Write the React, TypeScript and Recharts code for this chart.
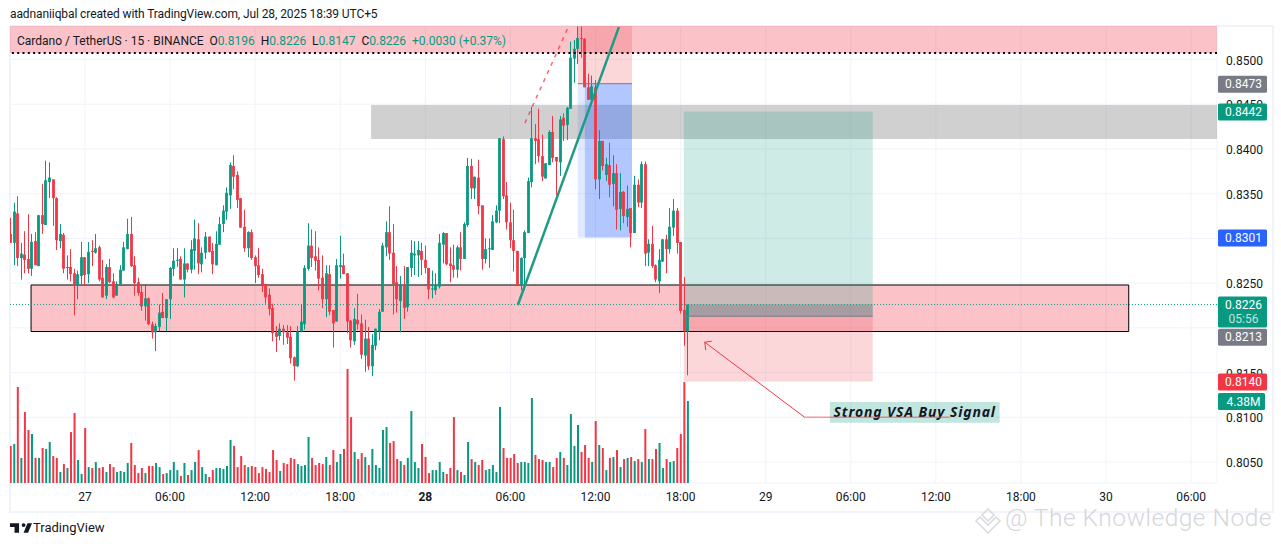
import { Bar, CartesianGrid, Cell, ComposedChart, ReferenceArea, ReferenceLine, XAxis, YAxis } from 'recharts';

const GREEN = '#089981';
const RED = '#f23645';
const INK = '#131722';
const UI_FONT = 'Roboto, sans-serif';

// 15 minute candles
const opens = [
  .8305,.8295,.8328,.8278,.8282,.8277,.8266,.8297,.8269,.8326,.8315,.8363,
  .8366,.8345,.8297,.8304,.8267,.8268,.8261,.8247,.8258,.8279,.8260,.8286,
  .8284,.8290,.8256,.8236,.8268,.8252,.8236,.8248,.8264,.8288,.8305,.8270,
  .8251,.8240,.8224,.8233,.8204,.8195,.8201,.8218,.8211,.8232,.8266,.8275,
  .8277,.8254,.8272,.8265,.8286,.8299,.8271,.8284,.8302,.8286,.8270,.8293,
  .8316,.8330,.8348,.8381,.8371,.8345,.8313,.8289,.8307,.8279,.8270,.8260,
  .8249,.8237,.8222,.8195,.8191,.8199,.8195,.8190,.8167,.8157,.8196,.8204,
  .8266,.8292,.8280,.8276,.8256,.8232,.8260,.8220,.8207,.8268,.8270,.8261,
  .8208,.8185,.8209,.8205,.8169,.8188,.8157,.8180,.8196,.8218,.8290,.8307,
  .8284,.8251,.8230,.8248,.8223,.8267,.8281,.8281,.8286,.8276,.8267,.8243,
  .8242,.8246,.8293,.8306,.8272,.8270,.8265,.8290,.8277,.8315,.8381,.8356,
  .8368,.8337,.8277,.8288,.8287,.8318,.8331,.8411,.8348,.8318,.8298,.8286,
  .8248,.8278,.8306,.8363,.8412,.8411,.8392,.8367,.8382,.8419,.8391,.8385,
  .8435,.8427,.8445,.8501,.8512,.8524,.8523,.8469,.8455,.8469,.8366,.8409,
  .8371,.8382,.8361,.8373,.8333,.8352,.8324,.8334,.8306,.8360,.8340,.8383,
  .8284,.8294,.8270,.8252,.8274,.8299,.8288,.8312,.8331,.8296,.8220,.8196,
];
const highs = [
  .8323,.8340,.8347,.8295,.8308,.8327,.8305,.8307,.8326,.8361,.8387,.8385,
  .8366,.8346,.8316,.8306,.8281,.8288,.8266,.8264,.8296,.8279,.8296,.8298,
  .8305,.8292,.8276,.8271,.8277,.8261,.8252,.8270,.8296,.8322,.8324,.8280,
  .8256,.8247,.8249,.8234,.8207,.8205,.8226,.8239,.8232,.8268,.8289,.8289,
  .8280,.8289,.8272,.8298,.8321,.8317,.8290,.8307,.8302,.8295,.8308,.8324,
  .8337,.8357,.8385,.8393,.8375,.8345,.8332,.8308,.8310,.8281,.8289,.8266,
  .8249,.8244,.8227,.8202,.8205,.8203,.8203,.8202,.8168,.8202,.8226,.8270,
  .8317,.8310,.8308,.8290,.8281,.8270,.8270,.8220,.8277,.8303,.8283,.8261,
  .8209,.8222,.8238,.8215,.8209,.8201,.8193,.8199,.8221,.8295,.8319,.8336,
  .8316,.8269,.8258,.8269,.8268,.8298,.8297,.8297,.8295,.8292,.8267,.8264,
  .8261,.8305,.8307,.8306,.8290,.8293,.8292,.8307,.8318,.8390,.8389,.8369,
  .8388,.8337,.8300,.8300,.8326,.8337,.8412,.8414,.8363,.8340,.8332,.8286,
  .8279,.8309,.8368,.8447,.8428,.8445,.8416,.8384,.8421,.8437,.8391,.8437,
  .8440,.8447,.8520,.8522,.8537,.8537,.8524,.8484,.8482,.8477,.8421,.8409,
  .8390,.8407,.8393,.8383,.8373,.8353,.8359,.8334,.8370,.8366,.8386,.8386,
  .8299,.8314,.8271,.8288,.8299,.8304,.8334,.8344,.8334,.8296,.8257,.8226,
];
const lows = [
  .8295,.8270,.8269,.8254,.8261,.8261,.8258,.8270,.8269,.8305,.8315,.8345,
  .8314,.8287,.8289,.8261,.8254,.8252,.8214,.8232,.8248,.8247,.8250,.8269,
  .8283,.8252,.8234,.8232,.8250,.8233,.8236,.8248,.8264,.8288,.8268,.8236,
  .8236,.8219,.8208,.8203,.8188,.8174,.8196,.8211,.8196,.8210,.8258,.8268,
  .8254,.8234,.8262,.8261,.8265,.8260,.8262,.8277,.8284,.8260,.8270,.8293,
  .8307,.8321,.8333,.8355,.8334,.8312,.8285,.8279,.8276,.8250,.8256,.8240,
  .8227,.8214,.8185,.8173,.8186,.8181,.8182,.8160,.8141,.8156,.8195,.8198,
  .8264,.8268,.8264,.8242,.8222,.8212,.8214,.8178,.8207,.8255,.8260,.8194,
  .8178,.8181,.8198,.8165,.8151,.8153,.8146,.8175,.8186,.8218,.8280,.8276,
  .8215,.8217,.8195,.8210,.8218,.8257,.8259,.8257,.8259,.8261,.8232,.8233,
  .8237,.8244,.8272,.8270,.8251,.8256,.8256,.8264,.8277,.8313,.8344,.8344,
  .8327,.8265,.8272,.8267,.8287,.8317,.8317,.8344,.8310,.8289,.8263,.8248,
  .8242,.8242,.8306,.8357,.8383,.8385,.8364,.8367,.8382,.8385,.8348,.8370,
  .8409,.8410,.8445,.8474,.8495,.8502,.8469,.8455,.8454,.8355,.8344,.8376,
  .8364,.8346,.8336,.8310,.8309,.8317,.8313,.8290,.8306,.8335,.8334,.8269,
  .8269,.8267,.8251,.8239,.8274,.8261,.8283,.8303,.8283,.8216,.8180,.8147,
];
const closes = [
  .8295,.8330,.8278,.8283,.8276,.8266,.8296,.8270,.8326,.8316,.8365,.8368,
  .8345,.8298,.8305,.8266,.8268,.8260,.8247,.8260,.8279,.8259,.8285,.8285,
  .8289,.8254,.8234,.8268,.8251,.8234,.8249,.8265,.8290,.8305,.8269,.8250,
  .8239,.8224,.8233,.8204,.8195,.8202,.8217,.8211,.8232,.8267,.8275,.8276,
  .8254,.8272,.8265,.8288,.8300,.8272,.8284,.8302,.8285,.8271,.8294,.8316,
  .8331,.8351,.8382,.8369,.8343,.8312,.8289,.8307,.8278,.8269,.8259,.8247,
  .8234,.8221,.8194,.8190,.8199,.8195,.8189,.8166,.8157,.8196,.8207,.8267,
  .8292,.8278,.8275,.8255,.8232,.8261,.8218,.8205,.8270,.8270,.8260,.8207,
  .8186,.8210,.8204,.8170,.8188,.8157,.8181,.8199,.8218,.8292,.8307,.8283,
  .8249,.8232,.8248,.8222,.8268,.8284,.8283,.8287,.8276,.8267,.8243,.8244,
  .8247,.8295,.8306,.8271,.8269,.8265,.8290,.8277,.8316,.8381,.8356,.8369,
  .8336,.8277,.8288,.8289,.8319,.8331,.8412,.8347,.8318,.8298,.8286,.8248,
  .8278,.8307,.8364,.8412,.8409,.8392,.8369,.8384,.8419,.8390,.8386,.8433,
  .8426,.8446,.8502,.8512,.8524,.8523,.8469,.8455,.8470,.8366,.8409,.8381,
  .8383,.8360,.8373,.8332,.8352,.8325,.8333,.8306,.8360,.8340,.8383,.8283,
  .8294,.8269,.8254,.8276,.8299,.8288,.8313,.8331,.8295,.8219,.8196,.8226,
];
// volume in millions
const volumes = [
  1.98,2.08,5.13,1.34,3.79,2.83,2.62,1.34,1.34,1.87,1.82,2.19,
  1.44,1.34,0.59,1.01,0.80,2.72,3.74,1.23,0.48,2.94,0.85,0.80,
  1.12,0.80,0.85,0.59,1.01,0.85,0.59,0.64,0.59,1.07,2.14,0.96,
  0.53,0.80,0.53,0.91,0.91,1.07,0.85,0.48,0.53,0.69,1.12,0.69,
  0.37,1.07,0.43,0.69,1.12,1.76,0.85,0.48,0.32,0.69,0.80,0.80,
  0.75,0.91,2.30,1.98,0.85,1.44,0.96,0.85,0.91,0.85,0.53,0.85,
  0.75,0.59,1.76,1.23,0.64,1.07,1.01,1.34,1.28,1.01,0.91,0.96,
  2.46,1.34,0.96,1.07,1.01,1.39,0.96,1.76,1.12,1.55,1.82,6.09,
  3.52,1.66,1.28,1.60,1.39,0.96,1.82,0.96,0.80,2.83,2.99,2.14,
  2.24,1.28,1.17,0.96,1.34,3.84,1.12,0.80,2.08,1.39,0.53,0.69,
  0.69,1.12,0.59,0.48,0.80,3.52,0.69,0.59,0.43,2.19,1.28,1.12,
  0.96,1.23,0.69,0.75,0.96,0.59,4.06,1.87,1.34,1.34,1.55,1.07,
  1.12,1.12,1.07,4.54,1.50,1.28,1.23,1.12,1.12,0.85,1.34,1.66,
  1.34,0.96,3.68,1.98,3.10,1.66,2.03,1.34,1.12,3.31,2.03,1.87,
  0.69,1.34,1.39,1.76,0.85,1.28,1.34,1.39,1.17,1.28,1.12,2.88,
  1.28,1.28,1.82,2.14,0.80,1.28,1.12,1.17,1.87,2.62,5.39,4.38,
];

const priceTicks = [0.85, 0.845, 0.84, 0.835, 0.83, 0.825, 0.82, 0.815, 0.81, 0.805];
const hiddenPriceLabels = [0.83, 0.82]; // fully covered by the tags in the reference
const timeTicks = [21, 45, 69, 93, 117, 141, 165, 189, 213, 237, 261, 285, 309, 333];
const timeLabels = ['27', '06:00', '12:00', '18:00', '28', '06:00', '12:00', '18:00', '29', '06:00', '12:00', '18:00', '30', '06:00'];

const candles = opens.map((o, i) => ({
  i,
  o,
  c: closes[i],
  range: [lows[i], highs[i]],
  volume: volumes[i],
}));

const X_MIN = -0.14;
const X_MAX = 340.3;
const P_MIN = 0.80265;
const P_MAX = 0.85375;
const VOL_MAX = 24.41;

function Candle(props: any) {
  const { x, y, width, height, payload } = props;
  const hi = payload.range[1];
  const lo = payload.range[0];
  const perUnit = height / (hi - lo);
  const top = y + (hi - Math.max(payload.o, payload.c)) * perUnit;
  const bottom = y + (hi - Math.min(payload.o, payload.c)) * perUnit;
  const wick = Math.round(x + width / 2 - 0.2);
  const color = payload.c >= payload.o ? GREEN : RED;
  return (
    <g>
      <rect x={wick} y={y} width={1} height={height} fill={color} />
      <rect x={wick - 0.9} y={top} width={2.8} height={Math.max(bottom - top, 1)} fill={color} />
    </g>
  );
}

function TimeTick(props: any) {
  const { x, y, payload, index } = props;
  const label = timeLabels[index];
  return (
    <text x={x} y={y + 7} textAnchor="middle" dominantBaseline="middle" fontFamily={UI_FONT} fontSize={12}
      fontWeight={label === '28' ? 700 : 400} fill={INK}>
      {label ?? payload.value}
    </text>
  );
}

function PriceTick(props: any) {
  const { x, y, payload } = props;
  if (hiddenPriceLabels.includes(payload.value)) return <g />;
  return (
    <text x={x} y={y + 2} dominantBaseline="middle" fontFamily={UI_FONT} fontSize={12} fill={INK}>
      {payload.value.toFixed(4)}
    </text>
  );
}

// coloured price tag in the axis strip, hung on a reference line
function tag(text: string, fill: string, w = 49, sub?: string) {
  return (props: any) => {
    const { viewBox } = props;
    const left = viewBox.x + viewBox.width + 1;
    const cy = viewBox.y;
    const h = sub ? 31 : 17;
    const top = sub ? cy - 8 : cy - 8;
    return (
      <g>
        <rect x={left} y={top} width={w} height={h} rx={1.5} fill={fill} />
        <text x={left + 25.5} y={cy + 1.5} textAnchor="middle" dominantBaseline="middle" fontFamily={UI_FONT} fontSize={12} fill="#fff">{text}</text>
        {sub && <text x={left + 25.5} y={cy + 15.5} textAnchor="middle" dominantBaseline="middle" fontFamily={UI_FONT} fontSize={12} fill="#fff" fillOpacity={0.75}>{sub}</text>}
      </g>
    );
  };
}

function signalLabel(props: any) {
  const { viewBox } = props;
  return (
    <text x={viewBox.x + viewBox.width / 2} y={viewBox.y + viewBox.height / 2 + 1} textAnchor="middle" dominantBaseline="middle"
      fontFamily="'Noto Sans', sans-serif" fontStyle="italic" fontWeight={700} fontSize={14} letterSpacing={0.85} fill={INK}>
      Strong VSA Buy Signal
    </text>
  );
}

const axes = { xAxisId: 0, yAxisId: 'price' };
const chartBox = { width: 1281, height: 546 };

function AbsText({ left, top, children, style }: any) {
  return (
    <div style={{ position: 'absolute', left, top, whiteSpace: 'pre', fontFamily: UI_FONT, lineHeight: '16px', ...style }}>
      {children}
    </div>
  );
}

export default function App() {
  return (
    <div style={{ position: 'absolute', left: 0, top: 0, width: 1281, height: 546, background: '#fff', overflow: 'hidden' }}>
      <div style={{ position: 'absolute', left: 9, top: 25, width: 1261, height: 484, border: '2px solid #f0f3fa' }} />
      <div style={{ position: 'absolute', left: 0, top: 0 }}>
        <ComposedChart {...chartBox} data={candles} margin={{ top: 26, right: 9, bottom: 35, left: 10 }}>
          <CartesianGrid stroke="#f0f3fa" yAxisId="price" />
          <XAxis dataKey="i" type="number" domain={[X_MIN, X_MAX]} ticks={timeTicks} height={28} allowDataOverflow
            axisLine={false} tickLine={false} interval={0} tick={<TimeTick />} />
          <XAxis xAxisId="volX" dataKey="i" type="number" domain={[X_MIN, X_MAX]} hide allowDataOverflow />
          <YAxis yAxisId="price" orientation="right" width={55} domain={[P_MIN, P_MAX]} ticks={priceTicks} allowDataOverflow
            axisLine={false} tickLine={false} tickMargin={3} interval={0} tick={<PriceTick />} />
          <YAxis yAxisId="vol" hide domain={[0, VOL_MAX]} allowDataOverflow />

          {/* zones */}
          <ReferenceArea {...axes} x1={X_MIN} x2={X_MAX} y1={0.85073} y2={P_MAX} fill={RED} fillOpacity={0.3} stroke="none" />
          <ReferenceArea {...axes} x1={101.7} x2={X_MAX} y1={0.84111} y2={0.84491} fill="#787878" fillOpacity={0.35} stroke="none" />
          <ReferenceArea {...axes} x1={5.8} x2={315.4} y1={0.81959} y2={0.82479} fill={RED} fillOpacity={0.3} stroke="#000" strokeWidth={1} />

          {/* short setup box */}
          <ReferenceArea {...axes} x1={160} x2={175.3} y1={0.8473} y2={P_MAX} fill={RED} fillOpacity={0.2} stroke="none" />
          <ReferenceArea {...axes} x1={162} x2={175.3} y1={0.8301} y2={0.8473} fill="#2962ff" fillOpacity={0.36} stroke="none" />
          <ReferenceArea {...axes} x1={160} x2={162} y1={0.8301} y2={0.8473} fill="#2962ff" fillOpacity={0.14} stroke="none" />
          <ReferenceLine {...axes} segment={[{ x: 160, y: 0.8473 }, { x: 175.3, y: 0.8473 }]} stroke="#787b86" strokeWidth={1} />

          {/* long position */}
          <ReferenceArea {...axes} x1={189.9} x2={243.2} y1={0.8213} y2={0.8442} fill={GREEN} fillOpacity={0.2} stroke="none" />
          <ReferenceArea {...axes} x1={189.9} x2={243.2} y1={0.814} y2={0.8213} fill={RED} fillOpacity={0.2} stroke="none" />
          <ReferenceArea {...axes} x1={191.3} x2={243.2} y1={0.8213} y2={0.8226} fill="#787b86" fillOpacity={0.45} stroke="none" />
          <ReferenceLine {...axes} segment={[{ x: 189.9, y: 0.8213 }, { x: 243.2, y: 0.8213 }]} stroke="#787b86" strokeWidth={1} />

          {/* levels */}
          <ReferenceLine {...axes} y={0.85073} stroke="#000" strokeWidth={2} strokeDasharray="2 3.3" />
          <ReferenceLine {...axes} y={0.8226} stroke={GREEN} strokeWidth={1} strokeDasharray="1 2" />

          {/* label behind the note */}
          <ReferenceArea {...axes} x1={231.1} x2={279} y1={0.8094} y2={0.8117} fill={GREEN} fillOpacity={0.25} stroke="none" />
          <ReferenceLine {...axes} segment={[{ x: 224, y: 0.81 }, { x: 264.9, y: 0.81 }]} stroke={RED} strokeOpacity={0.5} strokeWidth={1.5} />
          <ReferenceArea {...axes} x1={231.1} x2={279} y1={0.8094} y2={0.8117} fill="none" stroke="none" label={signalLabel} />

          <Bar xAxisId="volX" yAxisId="vol" dataKey="volume" barSize={2} isAnimationActive={false}>
            {candles.map((d) => (
              <Cell key={d.i} fill={d.c >= d.o ? GREEN : RED} />
            ))}
          </Bar>
          <Bar yAxisId="price" dataKey="range" barSize={3} isAnimationActive={false} shape={<Candle />} />

          {/* drawings on top of the candles */}
          <ReferenceLine {...axes} segment={[{ x: 143.1, y: 0.82255 }, { x: 171.6, y: 0.85363 }]} stroke="#1e9b83" strokeWidth={2.5} />
          <ReferenceLine {...axes} segment={[{ x: 145.1, y: 0.8429 }, { x: 157.2, y: 0.85352 }]} stroke={RED} strokeOpacity={0.75} strokeWidth={1.5} strokeDasharray="4 5" />
          <ReferenceLine {...axes} segment={[{ x: 224, y: 0.81 }, { x: 195.8, y: 0.8184 }]} stroke={RED} strokeWidth={1} />
          <ReferenceLine {...axes} segment={[{ x: 195.8, y: 0.8184 }, { x: 197.8, y: 0.8185 }]} stroke={RED} strokeWidth={1} />
          <ReferenceLine {...axes} segment={[{ x: 195.8, y: 0.8184 }, { x: 196.1, y: 0.8175 }]} stroke={RED} strokeWidth={1} />
        </ComposedChart>
      </div>

      {/* axis tags sit above the tick labels, so they get their own layer on the same scales */}
      <div style={{ position: 'absolute', left: 0, top: 0 }}>
        <ComposedChart {...chartBox} data={candles} margin={{ top: 26, right: 64, bottom: 63, left: 10 }}>
          <XAxis dataKey="i" type="number" domain={[X_MIN, X_MAX]} hide allowDataOverflow />
          <YAxis yAxisId="price" hide domain={[P_MIN, P_MAX]} allowDataOverflow />
          <YAxis yAxisId="vol" hide domain={[0, VOL_MAX]} allowDataOverflow />
          <ReferenceLine {...axes} y={0.8473} stroke="none" label={tag('0.8473', '#787b86')} />
          <ReferenceLine {...axes} y={0.8442} stroke="none" label={tag('0.8442', GREEN)} />
          <ReferenceLine {...axes} y={0.8301} stroke="none" label={tag('0.8301', '#2962ff')} />
          <ReferenceLine {...axes} y={0.8226} stroke="none" label={tag('0.8226', GREEN, 49, '05:56')} />
          <ReferenceLine {...axes} y={0.819} stroke="none" label={tag('0.8213', '#787b86')} />
          <ReferenceLine {...axes} y={0.814} stroke="none" label={tag('0.8140', RED)} />
          <ReferenceLine xAxisId={0} yAxisId="vol" y={4.38} stroke="none" label={tag('4.38M', GREEN, 47)} />
        </ComposedChart>
      </div>

      <AbsText left={10} top={6} style={{ fontSize: 12, letterSpacing: -0.1, color: INK }}>
        aadnaniiqbal created with TradingView.com, Jul 28, 2025 18:39 UTC+5
      </AbsText>
      <AbsText left={17} top={33} style={{ fontSize: 12, color: INK }}>
        {'Cardano / TetherUS · 15 · BINANCE  O'}<span style={{ color: GREEN }}>0.8196</span>
        {'  H'}<span style={{ color: GREEN }}>0.8226</span>
        {'  L'}<span style={{ color: GREEN }}>0.8147</span>
        {'  C'}<span style={{ color: GREEN }}>0.8226</span>
        <span style={{ color: GREEN }}>{'  +0.0030 (+0.37%)'}</span>
      </AbsText>

      <svg style={{ position: 'absolute', left: 10, top: 521 }} width={22} height={14} viewBox="0 4 34 19">
        <path d="M14 6H0v6h7v9h7V6Zm14 15h-7l6-15h7l-6 15Zm-7-9a3 3 0 1 0 0-6 3 3 0 0 0 0 6Z" fill={INK} />
      </svg>
      <AbsText left={33} top={520} style={{ fontSize: 13, color: INK }}>TradingView</AbsText>

      <svg style={{ position: 'absolute', left: 973, top: 506 }} width={30} height={30} fill="none" stroke="#d9d9dd" strokeWidth={1.5}>
        <path d="M15 3 21 9 15 15 9 9ZM7 11 13 17 15 19 17 17 23 11 27 15 15 27 3 15Z" />
      </svg>
      <AbsText left={1005} top={502} style={{ fontSize: 24.5, lineHeight: '32px', fontWeight: 300, color: '#d6d6da', letterSpacing: 0.5 }}>
        @ The Knowledge Node
      </AbsText>
    </div>
  );
}
